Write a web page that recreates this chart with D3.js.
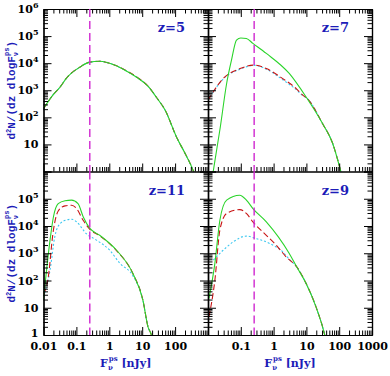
<!DOCTYPE html>
<meta charset="utf-8">
<script src="https://d3js.org/d3.v7.min.js"></script>
<style>
  body { margin: 0; background: #fff; }
</style>
<div id="chart"></div>
<script>

// flux [nJy], d2N/(dz dlogF)
var z5Green = [[0.01,209],[0.02,700],[0.032,1318],[0.05,2818],[0.13,7244],[0.24,10715],[0.5,11749],[1.5,8318],[3,5495],[6.8,3020],[15,1413],[27,550],[50,182],[112,18],[200,4.7],[363,1],[420,0.6]];
var z5Red   = [[0.01,209],[0.02,700],[0.032,1318],[0.05,2818],[0.13,7244],[0.24,10715],[0.5,11749],[1.5,8318],[3,5600],[6.8,3100],[15,1413],[27,550],[50,182],[112,18],[200,4.7],[363,1],[420,0.6]];
var z5Cyan  = [[0.01,209],[0.02,700],[0.032,1318],[0.05,2818],[0.13,7244],[0.24,10715],[0.5,11749],[1.5,8318],[3,5495],[6.8,3020],[15,1413],[27,550],[50,182],[112,18],[200,4.7],[363,1],[420,0.6]];

var z7Green = [[0.014,0.8],[0.0236,42],[0.037,1778],[0.052,12882],[0.074,70795],[0.1,85000],[0.148,81283],[0.234,53703],[0.6,22909],[3,4169],[9.8,562],[31,59],[63,11],[112,1],[125,0.6]];
var z7Red   = [[0.01,427],[0.029,2692],[0.095,6310],[0.26,8511],[0.6,6310],[1.9,2692],[4.9,1148],[7.9,646],[9.8,540],[31,59],[63,11],[112,1],[125,0.6]];
var z7Cyan  = [[0.01,427],[0.029,2600],[0.095,6000],[0.26,8300],[0.6,6000],[1.9,2450],[4.9,1050],[7.9,620],[9.8,540],[31,59],[63,11],[112,1],[125,0.6]];

var z11Green = [[0.01,20],[0.0158,3020],[0.02,21380],[0.028,66069],[0.045,85000],[0.071,89125],[0.112,66069],[0.162,21380],[0.257,8128],[0.51,4571],[1.66,1288],[5.2,182],[10.5,19],[15,2],[19,1],[21,0.6]];
var z11Red   = [[0.01,32],[0.0135,100],[0.02,7079],[0.028,35481],[0.045,54954],[0.071,57544],[0.1,44668],[0.162,15849],[0.257,7586],[0.51,4400],[1.66,1250],[5.2,180],[10.5,19],[15,2],[19,1],[21,0.6]];
var z11Cyan  = [[0.01,25],[0.0158,240],[0.022,3981],[0.032,12303],[0.05,16596],[0.071,17783],[0.102,14125],[0.2,5248],[0.41,3020],[1.03,1288],[2.1,427],[5.2,150],[10.5,19],[15,2],[19,1],[21,0.6]];

var z9Green = [[0.0107,22],[0.0162,427],[0.023,16218],[0.037,89125],[0.093,134896],[0.148,89125],[0.234,43652],[0.6,14125],[3,977],[5,324],[9.8,78],[19.5,11],[35.5,1.1],[40,0.6]];
var z9Red   = [[0.0107,4.7],[0.0162,102],[0.023,7079],[0.037,28840],[0.093,39811],[0.148,28840],[0.234,14125],[0.6,4571],[1.2,1995],[2.4,741],[5,324],[9.8,78],[19.5,11],[35.5,1.1],[40,0.6]];
var z9Cyan  = [[0.0145,562],[0.029,1288],[0.059,2630],[0.148,4266],[0.29,3467],[0.75,2291],[1.9,1122],[3,600],[5,324],[9.8,78],[19.5,11],[35.5,1.1],[40,0.6]];

var panelLabels = ["z=5", "z=7", "z=11", "z=9"];
var fluxCut = 0.25;   // vertical dashed line [nJy]

var xMajor = [0.01, 0.1, 1, 10, 100, 1000];
var xLabelsLeft  = ["0.01", "0.1", "1", "10", "100", ""];
var xLabelsRight = ["", "0.1", "1", "10", "100", "1000"];
var yMajor = [1, 10, 100, 1e3, 1e4, 1e5, 1e6];
var yExpTop    = [null, "", "2", "3", "4", "5", "6"];
var yExpBottom = ["1", "", "2", "3", "4", "5", null];

var panels = [
  {label: panelLabels[0], col: 0, row: 0, green: z5Green,  red: z5Red,  cyan: z5Cyan},
  {label: panelLabels[1], col: 1, row: 0, green: z7Green,  red: z7Red,  cyan: z7Cyan},
  {label: panelLabels[2], col: 0, row: 1, green: z11Green, red: z11Red, cyan: z11Cyan},
  {label: panelLabels[3], col: 1, row: 1, green: z9Green,  red: z9Red,  cyan: z9Cyan}
];

var width = 390, height = 376;
var colX = [[43.5, 208], [208, 372]];
var rowY = [[9, 171.5], [171.5, 335]];
var blue = "#1c1cb8";

var svg = d3.select("#chart").append("svg")
  .attr("width", width)
  .attr("height", height)
  .style("font-family", "DejaVu Serif")
  .style("font-weight", "bold");

function minorOf(scale, major) {
  return scale.ticks().filter(function(t) {
    return !major.some(function(m) { return Math.abs(m - t) / m < 1e-6; });
  });
}

function styleAxis(sel) {
  sel.select(".domain").attr("stroke", "#000").attr("stroke-width", 1.2);
  sel.selectAll(".tick line").attr("stroke", "#000").attr("stroke-width", 1);
  sel.selectAll("text").attr("fill", "#000").style("font-size", "11px")
    .style("font-family", "DejaVu Serif").style("font-weight", "bold");
}

var cutLayer = [];

panels.forEach(function(p, i) {
  var x = d3.scaleLog().domain([0.01, 1000]).range(colX[p.col]);
  var y = d3.scaleLog().domain([1, 1e6]).range([rowY[p.row][1], rowY[p.row][0]]);
  var x0 = colX[p.col][0], x1 = colX[p.col][1];
  var y0 = rowY[p.row][0], y1 = rowY[p.row][1];

  var g = svg.append("g");

  g.append("clipPath").attr("id", "clip" + i)
    .append("rect")
    .attr("x", x0).attr("y", y0)
    .attr("width", x1 - x0).attr("height", y1 - y0);

  var line = d3.line()
    .x(function(d) { return x(d[0]); })
    .y(function(d) { return y(d[1]); })
    .curve(d3.curveMonotoneX);

  var plot = g.append("g").attr("clip-path", "url(#clip" + i + ")");

  plot.append("path").datum(p.cyan)
    .attr("d", line).attr("fill", "none")
    .attr("stroke", "#3cc8f0").attr("stroke-width", 1.1)
    .attr("stroke-dasharray", "2,2");

  plot.append("path").datum(p.red)
    .attr("d", line).attr("fill", "none")
    .attr("stroke", "#c81414").attr("stroke-width", 1.1)
    .attr("stroke-dasharray", "6,3");

  plot.append("path").datum(p.green)
    .attr("d", line).attr("fill", "none")
    .attr("stroke", "#2ad42a").attr("stroke-width", 1.1);

  cutLayer.push({x: x(fluxCut), y0: y0, y1: y1});

  var xMinor = minorOf(x, xMajor);
  var yMinor = minorOf(y, yMajor);

  // bottom edge
  var xLabels = p.col === 0 ? xLabelsLeft : xLabelsRight;
  g.append("g").attr("transform", "translate(0," + y1 + ")")
    .call(d3.axisBottom(x).tickValues(xMinor).tickSize(-4.5).tickSizeOuter(0).tickFormat(""))
    .call(styleAxis);
  g.append("g").attr("transform", "translate(0," + y1 + ")")
    .call(d3.axisBottom(x).tickValues(xMajor).tickSize(-8).tickSizeOuter(0).tickPadding(7)
      .tickFormat(function(d, k) { return p.row === 1 ? xLabels[k] : ""; }))
    .call(styleAxis);

  // top edge (only the upper row has its own)
  if (p.row === 0) {
    g.append("g").attr("transform", "translate(0," + y0 + ")")
      .call(d3.axisTop(x).tickValues(xMinor).tickSize(-4.5).tickSizeOuter(0).tickFormat(""))
      .call(styleAxis);
    g.append("g").attr("transform", "translate(0," + y0 + ")")
      .call(d3.axisTop(x).tickValues(xMajor).tickSize(-8).tickSizeOuter(0).tickFormat(""))
      .call(styleAxis);
  }

  // left edge
  var yExp = p.row === 0 ? yExpTop : yExpBottom;
  g.append("g").attr("transform", "translate(" + x0 + ",0)")
    .call(d3.axisLeft(y).tickValues(yMinor).tickSize(-4.5).tickSizeOuter(0).tickFormat(""))
    .call(styleAxis);
  var left = g.append("g").attr("transform", "translate(" + x0 + ",0)")
    .call(d3.axisLeft(y).tickValues(yMajor).tickSize(-8).tickSizeOuter(0).tickPadding(5)
      .tickFormat(""))
    .call(styleAxis);
  if (p.col === 0) {
    left.selectAll(".tick text").each(function(d, k) {
      var t = d3.select(this);
      var e = yExp[k];
      if (e === null) return;
      if (e === "1") { t.attr("dy", "0.1em").text("1"); return; }
      t.append("tspan").text("10");
      if (e !== "") {
        t.append("tspan").attr("dy", "-5").style("font-size", "8px").text(e);
      }
    });
  }

  // right edge
  g.append("g").attr("transform", "translate(" + x1 + ",0)")
    .call(d3.axisRight(y).tickValues(yMinor).tickSize(-4.5).tickSizeOuter(0).tickFormat(""))
    .call(styleAxis);
  g.append("g").attr("transform", "translate(" + x1 + ",0)")
    .call(d3.axisRight(y).tickValues(yMajor).tickSize(-8).tickSizeOuter(0).tickFormat(""))
    .call(styleAxis);

  // redshift label
  g.append("text")
    .attr("x", x1 - 23).attr("y", y0 + 23)
    .attr("text-anchor", "end")
    .attr("fill", blue)
    .style("font-size", "13px")
    .text(p.label);

  // y title on the left column
  if (p.col === 0) {
    var yt = g.append("text")
      .attr("transform", "translate(15," + ((y0 + y1) / 2) + ") rotate(-90)")
      .attr("text-anchor", "middle")
      .attr("fill", blue)
      .style("font-family", "Liberation Mono")
      .style("font-size", "11px");
    yt.append("tspan").text("d");
    yt.append("tspan").attr("dy", -4).style("font-size", "7px").text("2");
    yt.append("tspan").attr("dy", 4).text("N/(dz dlogF");
    yt.append("tspan").attr("dy", 3).style("font-size", "7px").text("\u03bd");
    yt.append("tspan").attr("dx", -4).attr("dy", -9).style("font-size", "7px").text("ps");
    yt.append("tspan").attr("dy", 6).text(")");
  }

  // x title under the lower row
  if (p.row === 1) {
    var xt = g.append("text")
      .attr("x", (x0 + x1) / 2).attr("y", y1 + 32)
      .attr("text-anchor", "middle")
      .attr("fill", blue)
      .style("font-size", "11px");
    xt.append("tspan").text("F");
    xt.append("tspan").attr("dy", 3).style("font-size", "7px").text("\u03bd");
    xt.append("tspan").attr("dx", -4).attr("dy", -9).style("font-size", "7px").text("ps");
    xt.append("tspan").attr("dy", 6).text(" [nJy]");
  }
});

// magenta flux cut, drawn over everything
svg.append("g").selectAll("line")
  .data(cutLayer)
  .join("line")
    .attr("x1", function(d) { return d.x + 0.3; })
    .attr("x2", function(d) { return d.x + 0.3; })
    .attr("y1", function(d) { return d.y0; })
    .attr("y2", function(d) { return d.y1; })
    .style("stroke", "#d028d0")
    .style("stroke-width", 1.4)
    .style("stroke-dasharray", "8,4");

</script>
